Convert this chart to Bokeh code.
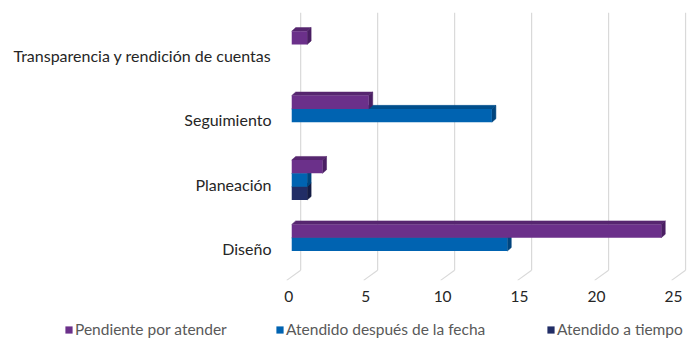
from bokeh.plotting import figure
from bokeh.layouts import column
from bokeh.models import ColumnDataSource, Range1d, FixedTicker, Legend, LegendItem
from bokeh.embed import file_html
from bokeh.resources import INLINE

# ---- data ----
categories = ["Diseño", "Planeación", "Seguimiento", "Transparencia y rendición de cuentas"]
series_names = ["Pendiente por atender", "Atendido después de la fecha", "Atendido a tiempo"]
pendiente = [24, 2, 5, 1]
despues = [14, 1, 13, 0]
a_tiempo = [0, 1, 0, 0]
x_ticks = [0, 5, 10, 15, 20, 25]

# ---- style ----
front_colors = ["#6B308A", "#0063B1", "#212D66"]
side_colors = ["#4A1E63", "#00457E", "#141C45"]
top_colors = ["#56266F", "#004E8C", "#18214F"]
offsets = [0.207, 0.0, -0.207]
bar_h = 0.207
dx = 0.26   # depth in x (data units)
dy = 0.055  # depth in y (data units)
FONT = "Lato"
FSIZE = "15.5px"
YLAB_SHIFT = 0.065
XLAB_SHIFT = 0.2

p = figure(width=698, height=312, output_backend="svg", toolbar_location=None,
           x_range=Range1d(-0.6, 25.9), y_range=Range1d(-0.56, 3.6),
           min_border_left=282, min_border_right=8, min_border_top=12, min_border_bottom=32)
p.frame_align = False
p.outline_line_color = None
p.xgrid.grid_line_color = None
p.ygrid.grid_line_color = None

# 3D grid: back wall verticals + floor diagonals
gx0, gy0, gx1, gy1 = [], [], [], []
for v in x_ticks:
    gx0 += [v + 0.58, v + 0.58]
    gy0 += [3.6, -0.40]
    gx1 += [v + 0.58, v - 0.33]
    gy1 += [-0.40, -0.558]
p.segment(x0=gx0, y0=gy0, x1=gx1, y1=gy1, line_color="#D9D9D9", line_width=1.2)

# draw bottom series first so upper series cover their top faces
for k in [2, 1, 0]:
    vals = [pendiente, despues, a_tiempo][k]
    ys, xs_end = [], []
    sx, sy, tx, ty = [], [], [], []
    for i, v in enumerate(vals):
        if v <= 0:
            continue
        c = i + offsets[k]
        lo, hi = c - bar_h / 2, c + bar_h / 2
        ys.append(c)
        xs_end.append(v)
        sx.append([v, v + dx, v + dx, v])
        sy.append([lo, lo + dy, hi + dy, hi])
        tx.append([0, dx, v + dx, v])
        ty.append([hi, hi + dy, hi + dy, hi])
    p.patches(xs=tx, ys=ty, fill_color=top_colors[k], line_color=top_colors[k], line_width=0.5)
    p.patches(xs=sx, ys=sy, fill_color=side_colors[k], line_color=side_colors[k], line_width=0.5)
    src = ColumnDataSource(dict(y=ys, right=xs_end))
    p.hbar(y="y", left=0, right="right", height=bar_h, source=src,
           fill_color=front_colors[k], line_color=None)

# axes
yt = [i - YLAB_SHIFT for i in range(len(categories))]
p.yaxis.ticker = FixedTicker(ticks=yt)
p.yaxis.major_label_overrides = {t: c for t, c in zip(yt, categories)}
p.yaxis.axis_line_color = None
p.yaxis.major_tick_line_color = None
p.yaxis.minor_tick_line_color = None
p.yaxis.major_tick_out = 0
p.yaxis.major_tick_in = 0
p.yaxis.major_label_standoff = 11
p.yaxis.major_label_text_font = FONT
p.yaxis.major_label_text_font_size = "16px"
p.yaxis.major_label_text_color = "#262626"

xt = [v - XLAB_SHIFT for v in x_ticks]
p.xaxis.ticker = FixedTicker(ticks=xt)
p.xaxis.major_label_overrides = {t: str(v) for t, v in zip(xt, x_ticks)}
p.xaxis.axis_line_color = None
p.xaxis.major_tick_line_color = None
p.xaxis.minor_tick_line_color = None
p.xaxis.major_tick_out = 0
p.xaxis.major_tick_in = 0
p.xaxis.major_label_standoff = 10
p.xaxis.major_label_text_font = FONT
p.xaxis.major_label_text_font_size = FSIZE
p.xaxis.major_label_text_color = "#262626"

# ---- legend strip ----
lf = figure(width=698, height=31, output_backend="svg", toolbar_location=None,
            x_range=Range1d(0, 1), y_range=Range1d(0, 1),
            min_border_left=0, min_border_right=0, min_border_top=0, min_border_bottom=0)
lf.frame_align = False
lf.axis.visible = False
lf.grid.grid_line_color = None
lf.outline_line_color = None

legend_x = [64, 275, 546]
for k, lx in enumerate(legend_x):
    # zero-size key glyph, only used to draw the legend swatch
    r = lf.hbar(y=[0], left=[0], right=[0], height=0, fill_color=front_colors[k], line_color=None)
    lg = Legend(items=[LegendItem(label=series_names[k], renderers=[r])],
                location=(lx, 5), orientation="horizontal",
                glyph_width=9, glyph_height=9, label_standoff=2,
                label_height=14, padding=0, margin=0, spacing=0,
                border_line_color=None, background_fill_alpha=0,
                label_text_font=FONT, label_text_font_size=FSIZE,
                label_text_color="#595959")
    lf.add_layout(lg, "center")

open("out.html", "w").write(file_html(column(p, lf, spacing=0), INLINE))
